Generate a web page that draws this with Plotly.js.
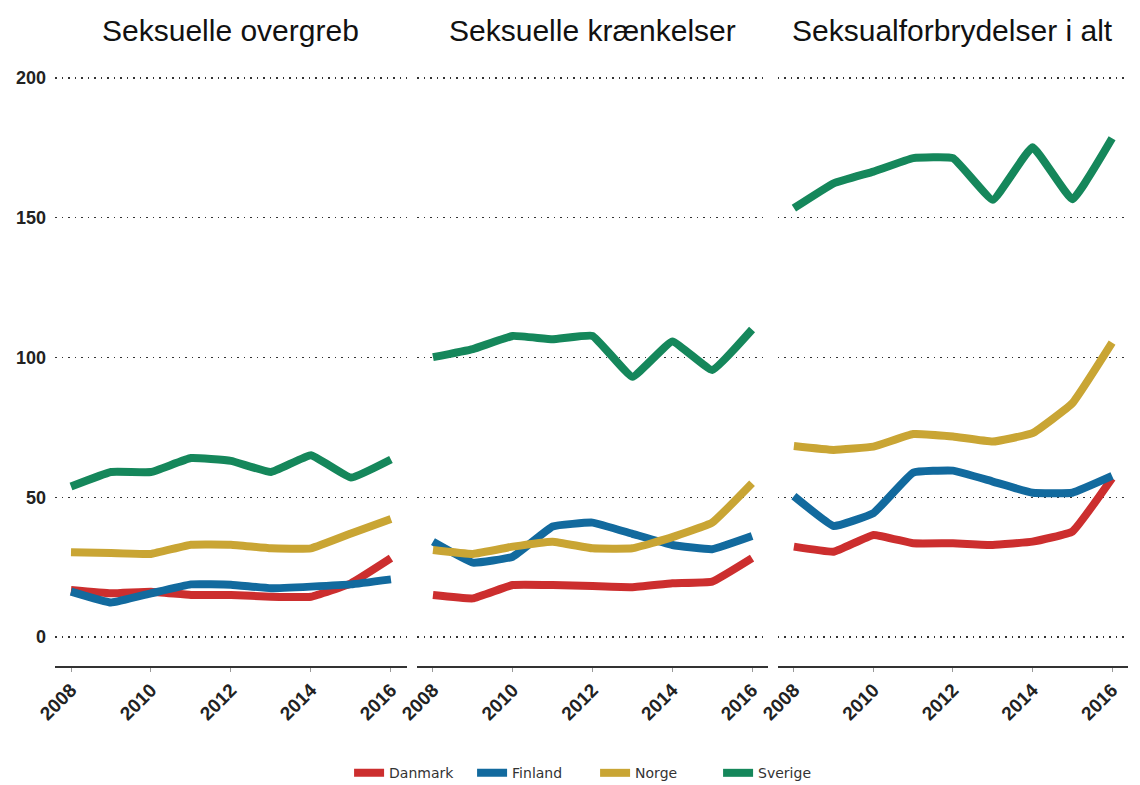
<!DOCTYPE html>
<html>
<head>
<meta charset="utf-8">
<script src="https://cdn.plot.ly/plotly-3.0.1.min.js"></script>
<style>body{margin:0;background:#fff;} #chart{width:1140px;height:785px;}</style>
</head>
<body>
<div id="chart"></div>
<script>
const years = [2008, 2009, 2010, 2011, 2012, 2013, 2014, 2015, 2016];
const panels = ["Seksuelle overgreb", "Seksuelle krænkelser", "Seksualforbrydelser i alt"];
const countries = ["Danmark", "Finland", "Norge", "Sverige"];
const colors = ["#CC2E2E", "#126A9E", "#C9A534", "#15875B"];

// Seksuelle overgreb
const overgrebDanmark = [16.8, 15.6, 16.2, 15.0, 15.0, 14.4, 14.4, 19.2, 28.2];
const overgrebFinland = [16.2, 12.3, 15.6, 18.8, 18.7, 17.4, 18.0, 18.8, 20.6];
const overgrebNorge   = [30.3, 30.0, 29.7, 33.0, 33.0, 31.7, 31.7, 37.0, 42.2];
const overgrebSverige = [53.8, 59.0, 59.0, 64.0, 63.0, 59.0, 65.0, 57.0, 63.5];

// Seksuelle krænkelser
const kraenkDanmark = [15.0, 13.8, 18.6, 18.6, 18.2, 17.8, 19.2, 19.8, 28.2];
const kraenkFinland = [34.1, 26.6, 28.7, 39.5, 40.9, 36.9, 32.9, 31.4, 36.1];
const kraenkNorge   = [31.1, 29.7, 32.3, 34.1, 31.7, 31.7, 35.7, 40.9, 55.0];
const kraenkSverige = [100.1, 103.0, 107.7, 106.5, 107.7, 93.1, 105.7, 95.5, 110.0];

// Seksualforbrydelser i alt
const altDanmark = [32.3, 30.5, 36.5, 33.5, 33.5, 32.9, 34.1, 37.7, 56.8];
const altFinland = [50.4, 39.7, 44.3, 58.8, 59.5, 55.6, 51.6, 51.6, 57.6];
const altNorge   = [68.3, 66.9, 68.1, 72.6, 71.7, 69.9, 72.9, 83.6, 105.3];
const altSverige = [153.4, 162.3, 166.5, 171.3, 171.3, 156.4, 175.2, 156.6, 178.4];

const yTicks = [0, 50, 100, 150, 200];
const xTicks = [2008, 2010, 2012, 2014, 2016];

const panelData = [
  [overgrebDanmark, overgrebFinland, overgrebNorge, overgrebSverige],
  [kraenkDanmark, kraenkFinland, kraenkNorge, kraenkSverige],
  [altDanmark, altFinland, altNorge, altSverige]
];

const traces = [];
panelData.forEach((series, p) => {
  series.forEach((vals, c) => {
    traces.push({
      x: years, y: vals, type: 'scatter', mode: 'lines',
      name: countries[c], legendgroup: countries[c], showlegend: p === 0,
      line: {color: colors[c], width: 8, shape: 'spline', smoothing: 0.3},
      xaxis: p === 0 ? 'x' : 'x' + (p + 1),
      yaxis: p === 0 ? 'y' : 'y' + (p + 1),
      hoverinfo: 'skip'
    });
  });
});

const domains = [[0, 0.328], [0.3374, 0.6645], [0.6738, 1]];
const font = 'Liberation Sans, Arial, sans-serif';
const layout = {
  width: 1140, height: 785,
  margin: {l: 55, r: 12, t: 50, b: 119},
  paper_bgcolor: '#fff', plot_bgcolor: '#fff',
  font: {family: font, color: '#222'},
  showlegend: true,
  legend: {orientation: 'h', xref: 'container', yref: 'container',
           x: 0.522, xanchor: 'center', y: 0.015, yanchor: 'middle',
           font: {size: 14, color: '#333', family: 'DejaVu Sans, Verdana, sans-serif'},
           itemwidth: 30, entrywidth: 78, entrywidthmode: 'pixels', tracegroupgap: 0},
  annotations: panels.map((t, i) => ({
    text: t, xref: 'paper', yref: 'paper',
    x: (domains[i][0] + domains[i][1]) / 2, y: 1, yshift: 20,
    xanchor: 'center', yanchor: 'middle', showarrow: false,
    font: {size: 30, color: '#111', family: font}
  }))
};
for (let i = 0; i < 3; i++) {
  const xs = i === 0 ? 'xaxis' : 'xaxis' + (i + 1);
  const ys = i === 0 ? 'yaxis' : 'yaxis' + (i + 1);
  layout[xs] = {
    domain: domains[i], range: [2007.6, 2016.4], anchor: i === 0 ? 'y' : 'y' + (i + 1),
    tickvals: xTicks, ticktext: xTicks.map(v => '<b>' + v + '</b>'),
    tickangle: -45, tickfont: {size: 19, color: '#222', family: font},
    showgrid: false, zeroline: false, showline: true, linecolor: '#333', linewidth: 1.5,
    ticks: 'outside', ticklen: 4, tickcolor: '#999', fixedrange: true, automargin: false
  };
  layout[ys] = {
    range: [-10.4, 210], anchor: i === 0 ? 'x' : 'x' + (i + 1),
    tickvals: yTicks, ticktext: yTicks.map(v => '<b>' + v + '</b>'),
    showticklabels: i === 0, tickfont: {size: 18, color: '#222', family: font},
    showgrid: true, gridcolor: '#333', gridwidth: 1.3, griddash: '1.5px,5px',
    zeroline: false, showline: false, ticks: '', ticklabelstandoff: 8, fixedrange: true,
    automargin: false
  };
}
Plotly.newPlot('chart', traces, layout, {displayModeBar: false, staticPlot: true});
</script>
</body>
</html>
